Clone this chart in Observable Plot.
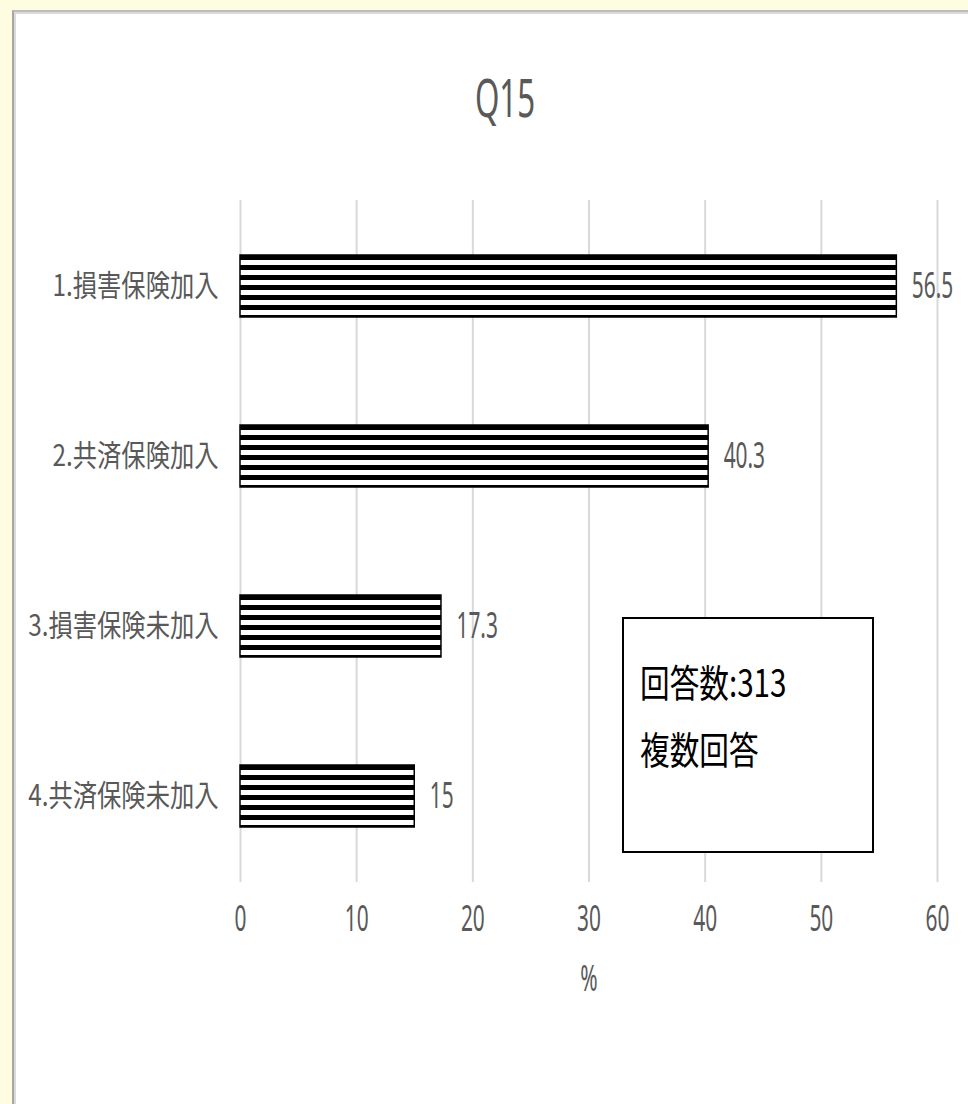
<!DOCTYPE html>
<html><head><meta charset="utf-8">
<script src="https://cdn.jsdelivr.net/npm/d3@7"></script>
<script src="https://cdn.jsdelivr.net/npm/@observablehq/plot@0.6"></script>
<style>
html,body{margin:0;padding:0;}
body{width:968px;height:1104px;background:#fffde1;position:relative;overflow:hidden;font-family:"Noto Sans CJK JP","Noto Sans",sans-serif;}
#panel{position:absolute;left:12px;top:10px;width:980px;height:1120px;background:#fff;border-left:2px solid #a6a6a6;border-top:2px solid #bdbdbd;box-shadow:inset 2px 2px 0 0 #dadada;}
#chart{position:absolute;left:0;top:0;}
#title{position:absolute;left:0;width:1010px;top:70px;text-align:center;font-family:"Noto Sans",sans-serif;font-size:53px;line-height:1;color:#595959;transform:scaleX(0.59);transform-origin:505px 0;}
#note{position:absolute;left:622px;top:617px;width:248px;height:232px;border:2px solid #000;background:#fff;box-sizing:content-box;}
#note div{position:absolute;left:16px;font-size:38px;line-height:1;color:#000;font-weight:400;white-space:nowrap;transform:scaleX(0.78);transform-origin:0 0;}
</style></head>
<body>
<div id="panel"></div>
<div id="chart"></div>
<div id="title">Q15</div>
<div id="note"><div style="top:43px">回答数:313</div><div style="top:110px">複数回答</div></div>
<script>
const categories = ["1.損害保険加入","2.共済保険加入","3.損害保険未加入","4.共済保険未加入"];
const values = [56.5, 40.3, 17.3, 15];
const xTicks = [0,10,20,30,40,50,60];
const xLabel = "%";

const data = categories.map((c,i)=>({cat:c, v:values[i]}));

const plot = Plot.plot({
  width: 968, height: 1104,
  marginLeft: 240, marginRight: 31, marginTop: 200, marginBottom: 222,
  style: {background: "transparent", fontFamily: '"Noto Sans","Noto Sans CJK JP",sans-serif', color: "#595959"},
  x: {domain: [0,60], ticks: xTicks},
  y: {domain: categories, paddingInner: 0.636, paddingOuter: 0.318},
  marks: [
    Plot.gridX(xTicks, {stroke: "#d9d9d9", strokeOpacity: 1, strokeWidth: 2}),
    Plot.axisX(xTicks, {tickSize: 0, tickPadding: 23, fontSize: 36, fill: "#595959", label: null}),
    Plot.axisY({tickSize: 0, tickPadding: 22, fontSize: 30, fill: "#595959", label: null, fontFamily: '"Noto Sans CJK JP",sans-serif'}),
    Plot.barX(data, {x: "v", y: "cat", fill: "url(#stripes)", stroke: "#000", strokeWidth: 1.5}),
    Plot.text(data, {x: "v", y: "cat", text: d => String(d.v), textAnchor: "start", dx: 15, fontSize: 36, fill: "#595959"}),
    Plot.text([xLabel], {frameAnchor: "bottom", dy: 108, text: d => d, fontSize: 36, fill: "#595959"})
  ]
});

const defs = d3.select(plot).insert("defs", ":first-child");
const pat = defs.append("pattern").attr("id","stripes").attr("patternUnits","userSpaceOnUse")
  .attr("width",10).attr("height",10).attr("y",5);
pat.append("rect").attr("width",10).attr("height",10).attr("fill","#fff");
pat.append("rect").attr("width",10).attr("height",5).attr("fill","#000");

document.getElementById("chart").appendChild(plot);

// condense text horizontally around its anchor to mimic the narrow original typeface
const yAxisTexts = new Set(plot.querySelectorAll('g[aria-label="y-axis tick label"] text'));
plot.querySelectorAll("text").forEach(t => {
  const s = yAxisTexts.has(t) ? 0.81 : 0.58;
  const bb = t.getBBox();
  const anchor = getComputedStyle(t).textAnchor;
  const ax = anchor === "end" ? bb.x + bb.width : anchor === "middle" ? bb.x + bb.width / 2 : bb.x;
  t.setAttribute("transform", (t.getAttribute("transform") || "") + ` translate(${ax},0) scale(${s},1) translate(${-ax},0)`);
});
</script>
</body></html>
